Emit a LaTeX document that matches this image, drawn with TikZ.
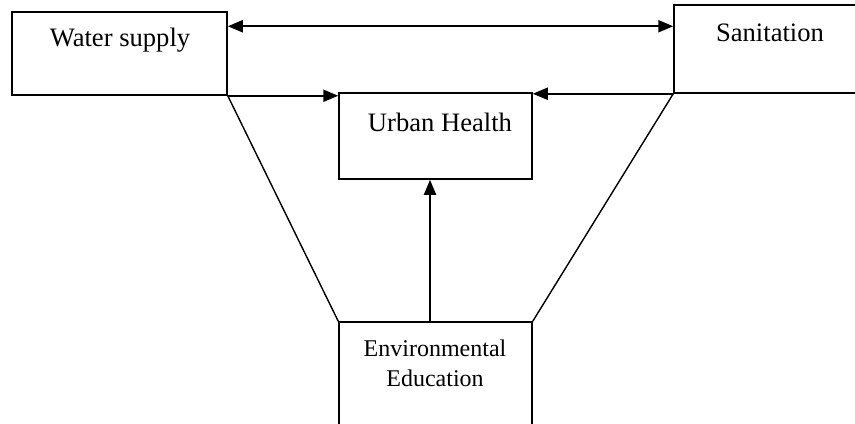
\documentclass[tikz,border=0pt]{standalone}
\usepackage{fontspec}
\setmainfont{Liberation Serif}
\usetikzlibrary{arrows.meta}

\begin{document}
\begin{tikzpicture}[x=0.5pt,y=-0.5pt,
    box/.style={draw,line width=0.75pt,inner sep=0pt},
    lbl/.style={inner sep=0pt,font=\fontsize{13.3}{16}\selectfont,align=center},
    link/.style={line width=1pt,-{Triangle[length=7.5pt,width=6pt]}},
    both/.style={line width=1pt,{Triangle[length=7.5pt,width=6pt]}-{Triangle[length=7.5pt,width=6pt]}},
    side/.style={line width=0.7pt}]
  \useasboundingbox (0,0) rectangle (855,423);
  % boxes
  \node[box,minimum width=107.5pt,minimum height=41.5pt] (water) at (119.5,53.5) {};
  \node[box,minimum width=95pt,minimum height=44pt] (sanit) at (769,49) {};
  \node[box,minimum width=96.5pt,minimum height=43pt] (urban) at (435.5,136) {};
  \node[box,minimum width=96.5pt,minimum height=54pt] (envi) at (435.5,376) {};
  % texts
  \node[lbl] (waterlbl) at (120,40) {Water supply};
  \node[lbl] (sanitlbl) at (770,33) {Sanitation};
  \node[lbl] (urbanlbl) at (440,122) {Urban Health};
  \node[lbl,font=\fontsize{12}{15}\selectfont] (envilbl) at (435,363) {Environmental\\Education};
  % connectors
  \coordinate (wtop) at ([yshift=-7.5pt]water.north east);
  \draw[both] (wtop) -- (wtop -| sanit.west);
  \draw[link] (water.south east) -- (water.south east -| urban.west);
  \draw[link] (sanit.south west) -- (sanit.south west -| urban.east);
  \draw[link] (envi.north -| 430,0) -- (urban.south -| 430,0);
  \draw[side] (water.south east) -- (envi.north west);
  \draw[side] (sanit.south west) -- (envi.north east);
\end{tikzpicture}
\end{document}
